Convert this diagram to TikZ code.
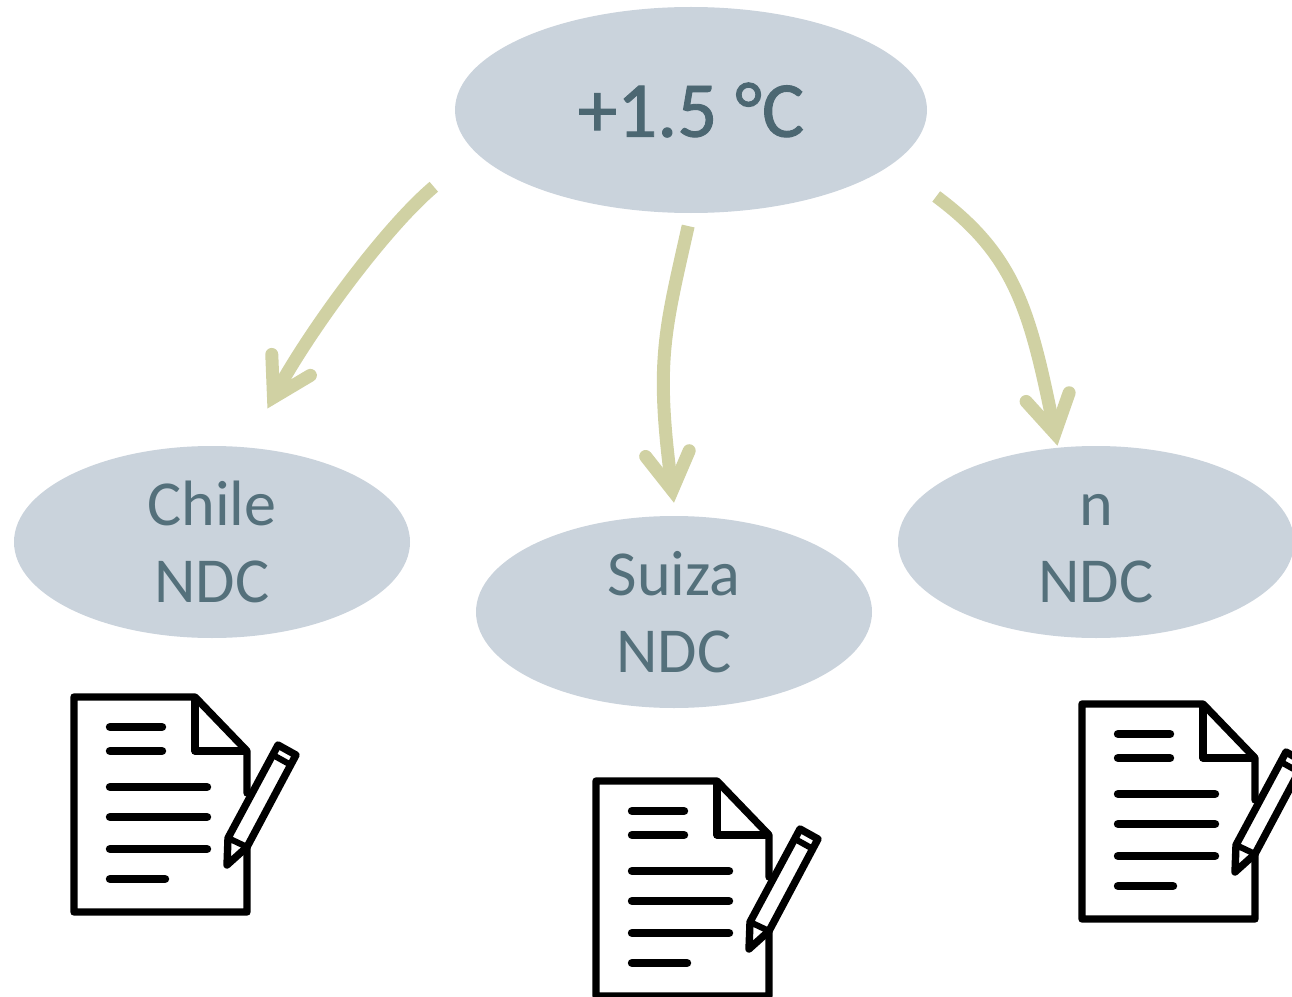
\documentclass[tikz,border=0pt]{standalone}
\usepackage{fontspec}
\setmainfont{Carlito}
\newfontfamily\heavyfont[FakeBold=1.2]{Carlito}
\usetikzlibrary{shapes.geometric,arrows.meta}
\definecolor{ellipsefill}{HTML}{CAD3DC}
\definecolor{labeltext}{HTML}{54707B}
\definecolor{toptext}{HTML}{4C6772}
\definecolor{flowcolor}{HTML}{D0D1A3}
\tikzset{
  country/.style={
    ellipse,
    fill=ellipsefill,
    text=labeltext,
    minimum width=396*0.02cm,
    minimum height=192*0.02cm,
    inner sep=0pt,
    align=center,
    font=\fontsize{36.5}{43.8}\selectfont
  },
  flow/.style={
    draw=flowcolor,
    line width=7.4pt,
    -{Straight Barb[length=21pt,width=25pt,line cap=round,line join=miter]}
  },
  docline/.style={line width=4.8pt,line cap=round},
  docicon/.pic={
    \draw[line width=4.2pt,line join=round,line cap=round]
      (247,793) -- (247,751) -- (195,697) -- (74,697) -- (74,912) -- (247,912) -- (247,847);
    \draw[line width=4.2pt,line join=round] (195,697) -- (195,751) -- (247,751);
    \draw[docline] (110,727) -- (162,727);
    \draw[docline] (110,751) -- (162,751);
    \draw[docline] (110,787) -- (207,787);
    \draw[docline] (110,817) -- (207,817);
    \draw[docline] (110,849) -- (207,849);
    \draw[docline] (110,879) -- (165,879);
    \draw[fill=white,line width=4.2pt,line join=round]
      (278,745) -- (296,755) -- (247,847) -- (227,865) -- (228,838) -- cycle;
    \draw[line width=3.5pt] (273,755) -- (291,765);
    \draw[line width=3.5pt] (228,838) -- (247,847);
  }
}

\begin{document}
\begin{tikzpicture}[x=0.02cm,y=-0.02cm]
    \useasboundingbox (0,0) rectangle (1292,997);
    \clip (0,0) rectangle (1292,997);
    \node[country,minimum width=472*0.02cm,minimum height=206*0.02cm,text=toptext,
      font=\heavyfont\fontsize{45}{50}\selectfont] (goal) at (691,110) {+1.5 °C};
    \node[country] (chile) at (212,542) {Chile\\NDC};
    \node[country] (suiza) at (674,612) {Suiza\\NDC};
    \node[country] (other) at (1096,542) {\vphantom{Chile}n\\NDC};
    \draw[flow,shorten <=30.7pt,shorten >=25pt] (goal.191.7)
      .. controls (385,228) and (310,330) .. (chile.70.6);
    \draw[flow,shorten <=7.4pt,shorten >=7.4pt] (goal.south)
      .. controls (665,330) and (655,360) .. (suiza.89);
    \draw[flow,shorten <=31pt,shorten >=1pt] (goal.345)
      .. controls (1015,255) and (1030,310) .. (other.112.5);
    \pic at (0,0) {docicon};
    \pic at (522,84) {docicon};
    \pic at (1008,7) {docicon};
\end{tikzpicture}
\end{document}
